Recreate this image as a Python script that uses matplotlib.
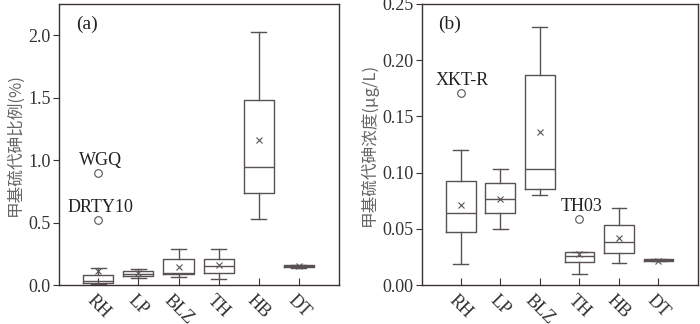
import matplotlib
matplotlib.use("Agg")
import matplotlib.pyplot as plt

cats = ["RH", "LP", "BLZ", "TH", "HB", "DT"]

# Panel (a): 甲基硫代砷比例 (%)
a_wlo = [0.005, 0.053, 0.067, 0.045, 0.525, 0.140]
a_q1 = [0.019, 0.069, 0.085, 0.099, 0.739, 0.143]
a_med = [0.035, 0.090, 0.099, 0.155, 0.947, 0.150]
a_q3 = [0.077, 0.112, 0.210, 0.205, 1.485, 0.158]
a_whi = [0.133, 0.130, 0.285, 0.288, 2.027, 0.160]
a_mean = [0.115, 0.093, 0.147, 0.160, 1.165, 0.150]
a_fliers = [[0.90, 0.52], [], [], [], [], []]
a_flier_labels = [("WGQ", 0, 0.90), ("DRTY10", 0, 0.52)]

# Panel (b): 甲基硫代砷浓度 (μg/L)
b_wlo = [0.019, 0.050, 0.080, 0.010, 0.0193, 0.0210]
b_q1 = [0.047, 0.0637, 0.0857, 0.0208, 0.0286, 0.0212]
b_med = [0.0637, 0.0768, 0.1036, 0.0259, 0.038, 0.0220]
b_q3 = [0.0923, 0.0905, 0.187, 0.0298, 0.053, 0.0228]
b_whi = [0.120, 0.1036, 0.2295, 0.0298, 0.0685, 0.0232]
b_mean = [0.0714, 0.0768, 0.136, 0.0277, 0.042, 0.0217]
b_fliers = [[0.1705], [], [], [0.0586], [], []]
b_flier_labels = [("XKT-R", 0, 0.1705), ("TH03", 3, 0.0586)]

serif = ["Liberation Serif", "DejaVu Serif"]
cjk = ["Noto Sans CJK SC", "DejaVu Sans"]
lc = "#5a5252"
sc = "#3a3232"

fig = plt.figure(figsize=(7, 3.24), dpi=100)
ax_a = fig.add_axes([59 / 700, 39 / 324, 280 / 700, 281 / 324])
ax_b = fig.add_axes([422 / 700, 39 / 324, 276 / 700, 281 / 324])


def draw(ax, wlo, q1, med, q3, whi, mean, fliers, flabels, ylim, yticks, yfmt,
         ylabel, tag, label_off):
    stats = []
    for i in range(len(cats)):
        stats.append(dict(whislo=wlo[i], q1=q1[i], med=med[i], q3=q3[i],
                          whishi=whi[i], mean=mean[i], fliers=fliers[i],
                          label=cats[i]))
    pos = list(range(1, len(cats) + 1))
    ax.bxp(stats, positions=pos, widths=0.75, capwidths=0.375, showmeans=True,
           showfliers=True,
           boxprops=dict(color=lc, linewidth=1.0),
           whiskerprops=dict(color=lc, linewidth=1.0),
           capprops=dict(color=lc, linewidth=1.0),
           medianprops=dict(color=lc, linewidth=1.0),
           meanprops=dict(marker="x", markeredgecolor=lc, markersize=4.5,
                          markeredgewidth=0.8),
           flierprops=dict(marker="o", markerfacecolor="none",
                           markeredgecolor=lc, markersize=5.5,
                           markeredgewidth=0.8))
    ax.set_xlim(0.02, 7.0)
    ax.set_ylim(*ylim)
    ax.set_yticks(yticks)
    ax.set_yticklabels([yfmt.format(v) for v in yticks], family=serif,
                       fontsize=13, color="#333")
    ax.set_xticks(pos)
    ax.set_xticklabels(cats, family=serif, fontsize=13, rotation=-45,
                       ha="center", va="top", color="#333")
    ax.tick_params(axis="x", direction="in", length=5, color=sc, pad=5)
    ax.tick_params(axis="y", direction="out", length=4, color=sc, pad=2)
    for s in ax.spines.values():
        s.set_color(sc)
        s.set_linewidth(1.0)
    ax.set_ylabel(ylabel, family=cjk, fontsize=12, color="#666", labelpad=3)
    ax.text(0.06, 0.96, tag, transform=ax.transAxes, family=serif,
            fontsize=14, va="top", ha="left", color="#222")
    for txt, i, v in flabels:
        ax.text(i + 1 + 0.05, v + label_off, txt, family=serif, fontsize=13,
                ha="center", va="bottom", color="#222")


draw(ax_a, a_wlo, a_q1, a_med, a_q3, a_whi, a_mean, a_fliers, a_flier_labels,
     (0, 2.25), [0.0, 0.5, 1.0, 1.5, 2.0], "{:.1f}", "甲基硫代砷比例(%)", "(a)", 0.03)
draw(ax_b, b_wlo, b_q1, b_med, b_q3, b_whi, b_mean, b_fliers, b_flier_labels,
     (0, 0.25), [0.00, 0.05, 0.10, 0.15, 0.20, 0.25], "{:.2f}",
     "甲基硫代砷浓度(μg/L)", "(b)", 0.004)

fig.savefig("out.png", dpi=100)
